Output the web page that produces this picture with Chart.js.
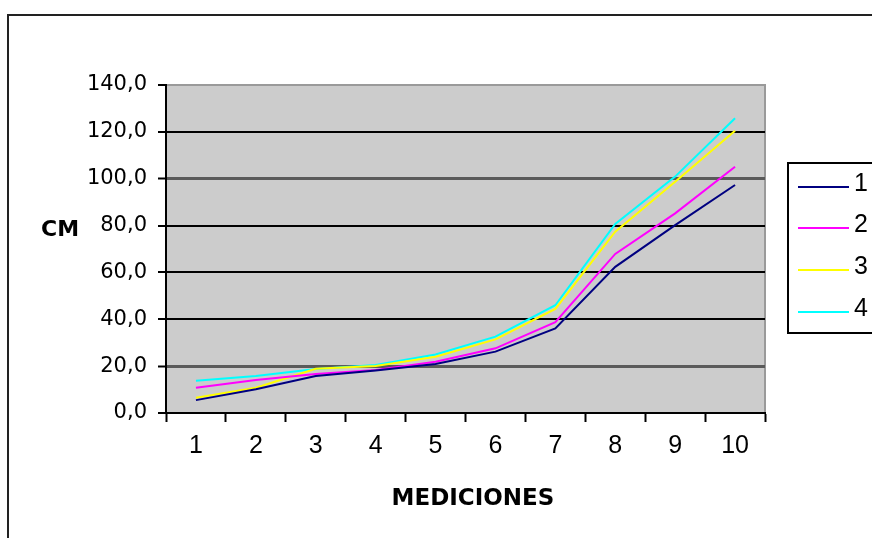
<!DOCTYPE html>
<html>
<head>
<meta charset="utf-8">
<script src="https://cdn.jsdelivr.net/npm/chart.js@4/dist/chart.umd.min.js"></script>
<style>
  html, body { margin: 0; padding: 0; background: #ffffff; }
  #wrap { width: 872px; height: 538px; }
</style>
</head>
<body>
<div id="wrap"><canvas id="c" width="872" height="538"></canvas></div>
<script>
// Measurement number along the x axis
const mediciones = ['1', '2', '3', '4', '5', '6', '7', '8', '9', '10'];

// Growth (cm) for each of the four series
const serie1 = [5.5, 10.1, 15.8, 18.1, 20.9, 26.2, 36.1, 62.4, 80.2, 97.3];
const serie2 = [10.8, 14.1, 16.6, 18.4, 21.9, 27.6, 38.8, 67.9, 85.2, 105.1];
const serie3 = [6.5, 10.8, 18.9, 20.1, 24.0, 31.4, 44.4, 77.4, 98.7, 120.5];
const serie4 = [13.8, 15.8, 18.8, 20.5, 25.0, 32.6, 46.0, 80.7, 100.9, 125.8];

const serieNames = ['1', '2', '3', '4'];
const serieColors = ['#000080', '#ff00ff', '#ffff00', '#00ffff'];

const yMin = 0, yMax = 140, yStep = 20;
const yTitle = 'CM';
const xTitle = 'MEDICIONES';

const formatTick = v => v.toFixed(1).replace('.', ',');

// Grey plotting area, outer frame, axis titles and legend box
const decor = {
  id: 'decor',
  beforeDraw(chart) {
    const { ctx, chartArea: a } = chart;
    ctx.save();
    ctx.fillStyle = '#ffffff';
    ctx.fillRect(0, 0, chart.width, chart.height);
    // outer frame (top and left edges)
    ctx.strokeStyle = '#222222';
    ctx.lineWidth = 2;
    ctx.beginPath();
    ctx.moveTo(8, 540);
    ctx.lineTo(8, 15);
    ctx.lineTo(880, 15);
    ctx.stroke();
    // plot background
    ctx.fillStyle = '#cccccc';
    ctx.fillRect(a.left, a.top, a.right - a.left, a.bottom - a.top);
    ctx.strokeStyle = '#9a9a9a';
    ctx.lineWidth = 2;
    ctx.beginPath();
    ctx.moveTo(a.left, a.top);
    ctx.lineTo(a.right, a.top);
    ctx.lineTo(a.right, a.bottom);
    ctx.stroke();
    ctx.restore();
  },
  afterDraw(chart) {
    const { ctx } = chart;
    ctx.save();
    ctx.fillStyle = '#000000';
    ctx.font = 'bold 22px "DejaVu Sans"';
    ctx.textAlign = 'center';
    ctx.textBaseline = 'middle';
    ctx.fillText(yTitle, 60, 230);
    ctx.font = 'bold 23px "DejaVu Sans"';
    ctx.fillText(xTitle, 473, 499);

    // legend box
    ctx.fillStyle = '#ffffff';
    ctx.fillRect(788, 163, 100, 170);
    ctx.strokeStyle = '#000000';
    ctx.lineWidth = 2;
    ctx.strokeRect(788, 163, 100, 170);
    const rows = [187, 228, 270, 312];
    chart.data.datasets.forEach((ds, i) => {
      const y = rows[i];
      ctx.strokeStyle = ds.borderColor;
      ctx.lineWidth = 2;
      ctx.beginPath();
      ctx.moveTo(798, y);
      ctx.lineTo(849, y);
      ctx.stroke();
      ctx.fillStyle = '#000000';
      ctx.font = '25px "Liberation Sans"';
      ctx.textAlign = 'left';
      ctx.textBaseline = 'middle';
      ctx.fillText(ds.label, 854, y - 3);
    });
    ctx.restore();
  }
};

const gridColor = ctx => {
  const v = ctx.tick && ctx.tick.value;
  if (v === 140) return '#9a9a9a';
  if (v === 100 || v === 20) return '#5a5a5a';
  return '#000000';
};
const gridWidth = ctx => {
  const v = ctx.tick && ctx.tick.value;
  if (v === 100 || v === 20) return 3;
  return 2;
};

new Chart(document.getElementById('c'), {
  type: 'line',
  data: {
    labels: mediciones,
    datasets: [serie1, serie2, serie3, serie4].map((d, i) => ({
      label: serieNames[i],
      data: d,
      borderColor: serieColors[i],
      backgroundColor: serieColors[i],
      borderWidth: 2,
      pointRadius: 0,
      tension: 0,
      fill: false
    }))
  },
  options: {
    responsive: false,
    animation: false,
    events: [],
    layout: { padding: { left: 0, right: 107, top: 85, bottom: 0 } },
    plugins: {
      legend: { display: false },
      tooltip: { enabled: false }
    },
    scales: {
      x: {
        offset: true,
        afterFit(scale) { scale.height = 125; },
        grid: {
          offset: true,
          drawOnChartArea: false,
          drawTicks: true,
          tickLength: 9,
          tickColor: '#000000',
          tickWidth: 2
        },
        border: { display: true, color: '#000000', width: 2 },
        ticks: {
          color: '#000000',
          padding: 9,
          maxRotation: 0,
          autoSkip: false,
          font: { family: '"Liberation Sans"', size: 25 }
        }
      },
      y: {
        min: yMin,
        max: yMax,
        afterFit(scale) { scale.width = 166; },
        grid: {
          color: gridColor,
          lineWidth: gridWidth,
          drawTicks: true,
          tickLength: 8,
          tickColor: '#000000',
          tickWidth: 2
        },
        border: { display: true, color: '#000000', width: 2 },
        ticks: {
          stepSize: yStep,
          color: '#000000',
          padding: 11,
          callback: v => formatTick(v),
          font: { family: '"DejaVu Sans"', size: 21 }
        }
      }
    }
  },
  plugins: [decor]
});
</script>
</body>
</html>
